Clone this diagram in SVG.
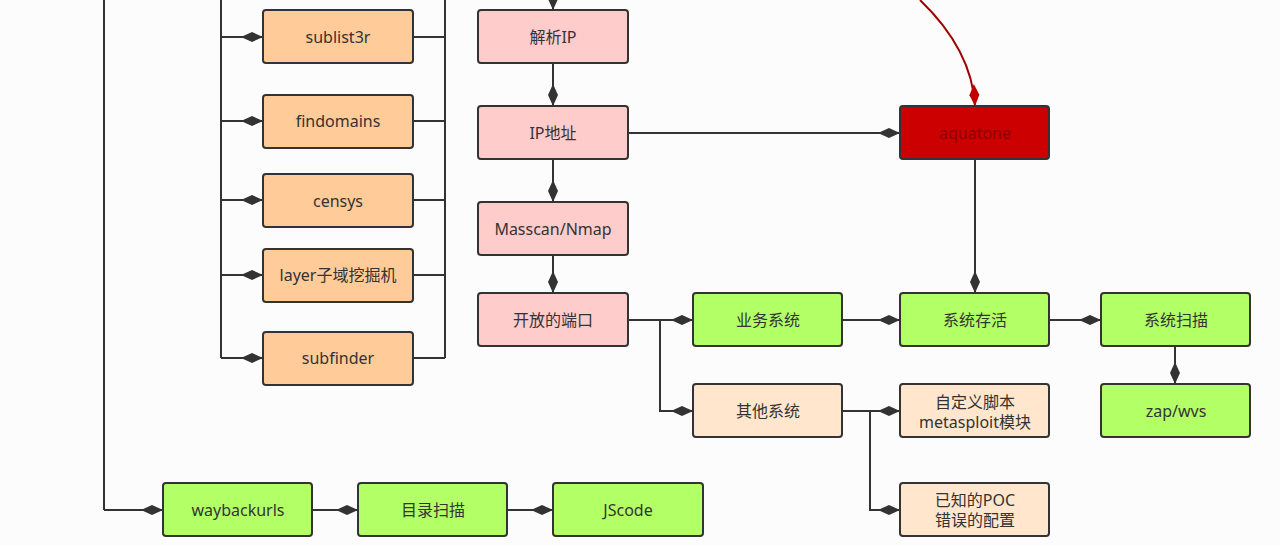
<svg xmlns="http://www.w3.org/2000/svg" width="1280" height="545" viewBox="0 0 1280 545">
<defs>
<marker id="d" markerWidth="24" markerHeight="12" refX="23" refY="6" orient="auto" markerUnits="userSpaceOnUse"><path d="M1,6 L12,1 L23,6 L12,11 Z" fill="#333"/></marker>
<marker id="dr" markerWidth="24" markerHeight="12" refX="23" refY="6" orient="auto" markerUnits="userSpaceOnUse"><path d="M1,6 L12,1 L23,6 L12,11 Z" fill="#c00000"/></marker>
<style>
rect{stroke:#333;stroke-width:2;rx:3}
.o{fill:#ffcc99}.p{fill:#ffcccc}.g{fill:#b3ff66}.e{fill:#ffe6cc}.r{fill:#cc0000}
text{font-family:"Noto Sans","Noto Sans CJK SC",sans-serif;font-size:16px;fill:#333;text-anchor:middle;dominant-baseline:central}
.c path,.c line{stroke:#333;stroke-width:2;fill:none}
</style>
</defs>
<rect x="0" y="0" width="1280" height="545" fill="#fcfcfc" style="stroke:none"/>
<g class="c">
<line x1="104" y1="0" x2="104" y2="510"/>
<path d="M104,510 H163" marker-end="url(#d)"/>
<line x1="221" y1="0" x2="221" y2="358"/>
<line x1="445" y1="0" x2="445" y2="358"/>
<path d="M221,37 H263" marker-end="url(#d)"/>
<path d="M221,121 H263" marker-end="url(#d)"/>
<path d="M221,200 H263" marker-end="url(#d)"/>
<path d="M221,275 H263" marker-end="url(#d)"/>
<path d="M221,358 H263" marker-end="url(#d)"/>
<line x1="413" y1="37" x2="445" y2="37"/><line x1="413" y1="121" x2="445" y2="121"/><line x1="413" y1="200" x2="445" y2="200"/><line x1="413" y1="275" x2="445" y2="275"/><line x1="413" y1="358" x2="445" y2="358"/>
<path d="M553,0 V10" marker-end="url(#d)"/>
<path d="M553,63 V106" marker-end="url(#d)"/>
<path d="M553,159 V202" marker-end="url(#d)"/>
<path d="M553,255 V293" marker-end="url(#d)"/>
<path d="M628,133 H900" marker-end="url(#d)"/>
<path d="M920,0 Q972,50 975,106" style="stroke:#a00000" marker-end="url(#dr)"/>
<path d="M975,159 V293" marker-end="url(#d)"/>
<path d="M628,320 H660 V411 H693" marker-end="url(#d)"/>
<path d="M660,320 H693" marker-end="url(#d)"/>
<path d="M842,320 H900" marker-end="url(#d)"/>
<path d="M1049,320 H1101" marker-end="url(#d)"/>
<path d="M1175,346 V384" marker-end="url(#d)"/>
<path d="M842,411 H870 V510 H900" marker-end="url(#d)"/>
<path d="M870,411 H900" marker-end="url(#d)"/>
<path d="M312,510 H358" marker-end="url(#d)"/>
<path d="M507,510 H553" marker-end="url(#d)"/>
</g>
<g id="sublist3r"><rect class="o" x="263" y="10" width="150" height="53"/><text x="338" y="37">sublist3r</text></g>
<g id="findomains"><rect class="o" x="263" y="95" width="150" height="53"/><text x="338" y="121">findomains</text></g>
<g id="censys"><rect class="o" x="263" y="174" width="150" height="53"/><text x="338" y="201">censys</text></g>
<g id="layer"><rect class="o" x="263" y="249" width="150" height="53"/><text x="338" y="275">layer子域挖掘机</text></g>
<g id="subfinder"><rect class="o" x="263" y="332" width="150" height="53"/><text x="338" y="358">subfinder</text></g>
<g id="jiexi"><rect class="p" x="478" y="10" width="150" height="53"/><text x="553" y="37">解析IP</text></g>
<g id="ip"><rect class="p" x="478" y="106" width="150" height="53"/><text x="553" y="133">IP地址</text></g>
<g id="masscan"><rect class="p" x="478" y="202" width="150" height="53"/><text x="553" y="229">Masscan/Nmap</text></g>
<g id="ports"><rect class="p" x="478" y="293" width="150" height="53"/><text x="553" y="320">开放的端口</text></g>
<g id="aquatone"><rect class="r" x="900" y="106" width="149" height="53"/><text x="975" y="133" style="fill:#8a0000">aquatone</text></g>
<g id="biz"><rect class="g" x="693" y="293" width="149" height="53"/><text x="768" y="320">业务系统</text></g>
<g id="alive"><rect class="g" x="900" y="293" width="149" height="53"/><text x="975" y="320">系统存活</text></g>
<g id="scan"><rect class="g" x="1101" y="293" width="149" height="53"/><text x="1176" y="320">系统扫描</text></g>
<g id="zap"><rect class="g" x="1101" y="384" width="149" height="53"/><text x="1176" y="411">zap/wvs</text></g>
<g id="other"><rect class="e" x="693" y="384" width="149" height="53"/><text x="768" y="411">其他系统</text></g>
<g id="custom"><rect class="e" x="900" y="384" width="149" height="53"/><text x="975" y="402">自定义脚本</text><text x="975" y="422">metasploit模块</text></g>
<g id="poc"><rect class="e" x="900" y="483" width="149" height="53"/><text x="975" y="500">已知的POC</text><text x="975" y="520">错误的配置</text></g>
<g id="wayback"><rect class="g" x="163" y="483" width="149" height="53"/><text x="238" y="510">waybackurls</text></g>
<g id="dir"><rect class="g" x="358" y="483" width="149" height="53"/><text x="433" y="510">目录扫描</text></g>
<g id="js"><rect class="g" x="553" y="483" width="150" height="53"/><text x="628" y="510">JScode</text></g>
</svg>
